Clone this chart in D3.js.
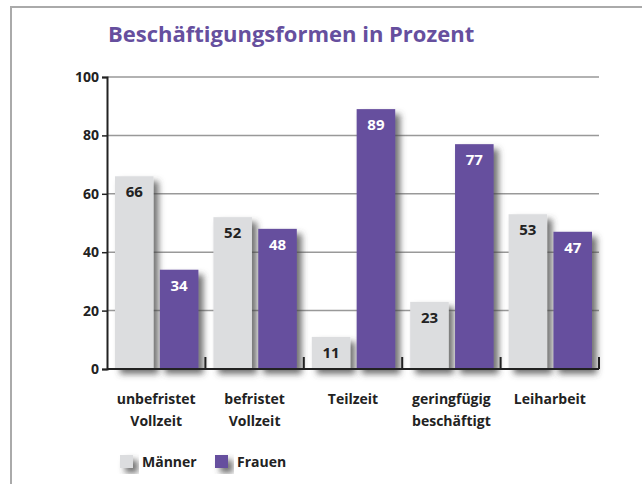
<!DOCTYPE html>
<html>
<head>
<meta charset="utf-8">
<script src="https://cdn.jsdelivr.net/npm/d3@7"></script>
<style>
  body { margin: 0; background: #fff; }
  text { font-family: "Open Sans", "Noto Sans", sans-serif; font-weight: bold; }
</style>
</head>
<body>
<div id="chart"></div>
<script>
var categories = [["unbefristet", "Vollzeit"], ["befristet", "Vollzeit"], ["Teilzeit"], ["geringfügig", "beschäftigt"], ["Leiharbeit"]];
var series = ["Männer", "Frauen"];
var maenner = [66, 52, 11, 23, 53];
var frauen = [34, 48, 89, 77, 47];
var yTicks = [0, 20, 40, 60, 80, 100];
var colors = {"Männer": "#dcdddf", "Frauen": "#664f9e"};

var W = 642, H = 484;
var margin = {top: 77, left: 107, bottom: 115, right: 43},
    width = W - margin.left - margin.right,
    height = H - margin.top - margin.bottom;

var root = d3.select("#chart").append("svg")
    .attr("width", W)
    .attr("height", H);

var defs = root.append("defs");
var f = defs.append("filter").attr("id", "shadow")
    .attr("x", "-20%").attr("y", "-20%").attr("width", "160%").attr("height", "160%");
f.append("feDropShadow")
    .attr("dx", 5).attr("dy", 5).attr("stdDeviation", 3)
    .attr("flood-color", "#444").attr("flood-opacity", 0.75);

// frame
root.append("path")
    .attr("d", "M11,484 V7 H642")
    .attr("fill", "none")
    .attr("stroke", "#aaa")
    .attr("stroke-width", 2);

root.append("text")
    .attr("x", 108).attr("y", 42)
    .attr("fill", "#664f9e")
    .style("font-size", "22px")
    .text("Beschäftigungsformen in Prozent");

var svg = root.append("g")
    .attr("transform", "translate(" + margin.left + "," + margin.top + ")");

var x0 = d3.scaleBand()
    .domain(d3.range(categories.length))
    .range([0, width]);

var x1 = d3.scaleBand()
    .domain(series)
    .range([8, x0.bandwidth() - 7])
    .paddingInner(0.14);

var y = d3.scaleLinear()
    .domain([0, 100])
    .range([height, 0]);

// gridlines
svg.selectAll(".grid")
    .data(yTicks.slice(1))
    .enter().append("line")
        .attr("x1", 0).attr("x2", width)
        .attr("y1", function(d) {return y(d);})
        .attr("y2", function(d) {return y(d);})
        .attr("stroke", "#999")
        .attr("stroke-width", 1.5);

var data = categories.map(function(c, i) {
    return {i: i, values: [{k: "Männer", v: maenner[i]}, {k: "Frauen", v: frauen[i]}]};
});

var groups = svg.selectAll(".group")
    .data(data)
    .enter().append("g")
        .attr("transform", function(d) {return "translate(" + x0(d.i) + ",0)";});

groups.selectAll("rect")
    .data(function(d) {return d.values;})
    .enter().append("rect")
        .attr("x", function(d) {return x1(d.k);})
        .attr("y", function(d) {return y(d.v);})
        .attr("width", x1.bandwidth())
        .attr("height", function(d) {return height - y(d.v);})
        .attr("fill", function(d) {return colors[d.k];})
        .attr("filter", "url(#shadow)");

groups.selectAll(".val")
    .data(function(d) {return d.values;})
    .enter().append("text")
        .attr("x", function(d) {return x1(d.k) + x1.bandwidth() / 2;})
        .attr("y", function(d) {return y(d.v) + 21;})
        .attr("text-anchor", "middle")
        .attr("fill", function(d) {return d.k === "Frauen" ? "#fff" : "#222";})
        .style("font-size", "15px")
        .text(function(d) {return d.v;});

// axes
var yAxis = svg.append("g")
    .call(d3.axisLeft(y).tickValues(yTicks).tickSize(5).tickPadding(3));
yAxis.select(".domain").attr("stroke", "#222").attr("stroke-width", 2);
yAxis.selectAll(".tick line").attr("stroke", "#222").attr("stroke-width", 1.5);
yAxis.selectAll(".tick text")
    .attr("fill", "#222")
    .style("font-size", "14px");

svg.append("line")
    .attr("x1", 0).attr("x2", width)
    .attr("y1", height).attr("y2", height)
    .attr("stroke", "#222").attr("stroke-width", 2);

svg.selectAll(".sep")
    .data(d3.range(1, categories.length + 1))
    .enter().append("line")
        .attr("x1", function(d) {return d === categories.length ? width : x0(d);})
        .attr("x2", function(d) {return d === categories.length ? width : x0(d);})
        .attr("y1", height)
        .attr("y2", height - 12)
        .attr("stroke", "#222").attr("stroke-width", 2);

var labels = groups.append("text")
    .attr("text-anchor", "middle")
    .attr("fill", "#222")
    .style("font-size", "14px");
labels.selectAll("tspan")
    .data(function(d) {return categories[d.i];})
    .enter().append("tspan")
        .attr("x", x0.bandwidth() / 2)
        .attr("y", function(d, j) {return height + 35 + j * 22;})
        .text(function(d) {return d;});

// legend
var legend = root.append("g")
    .attr("transform", "translate(120,455)");
var items = legend.selectAll("g")
    .data(series)
    .enter().append("g")
        .attr("transform", function(d, i) {return "translate(" + (i * 95) + ",0)";});
items.append("rect")
    .attr("width", 13).attr("height", 13)
    .attr("fill", function(d) {return colors[d];})
    .attr("filter", "url(#shadow)");
items.append("text")
    .attr("x", 22).attr("y", 12)
    .attr("fill", "#222")
    .style("font-size", "14px")
    .text(function(d) {return d;});
</script>
</body>
</html>
